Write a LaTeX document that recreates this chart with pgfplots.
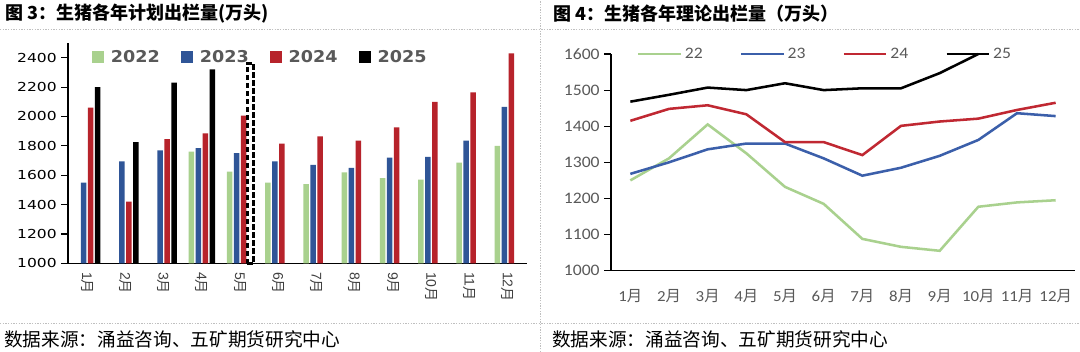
\documentclass[border=0pt]{standalone}
\usepackage{pgfplots}
\pgfplotsset{compat=1.18}
\usepackage{fontspec}
\setmainfont{Liberation Sans}
\newfontfamily\cjk{Noto Sans CJK SC}
\newfontfamily\dvs[FakeStretch=1.25]{DejaVu Sans}
\newfontfamily\dvsb[FakeStretch=1.08]{DejaVu Sans}
\newfontfamily\carl[FakeStretch=1.1]{Carlito}
\definecolor{cg}{RGB}{169,209,142}
\definecolor{cb}{RGB}{47,85,151}
\definecolor{cr}{RGB}{183,35,43}
\definecolor{lb}{RGB}{59,95,170}
\definecolor{lr}{RGB}{192,40,50}
\definecolor{tg}{RGB}{89,89,89}
\begin{document}
\begin{tikzpicture}
\path[use as bounding box, fill=white] (0,0) rectangle (810pt,264pt);
% separators
\draw[gray!50, dash pattern=on 1pt off 1pt] (0,242pt) -- (810pt,242pt);
\draw[gray!50, dash pattern=on 1pt off 1pt] (0,21.75pt) -- (810pt,21.75pt);
\draw[gray!50, dash pattern=on 1pt off 1pt] (405.5pt,0) -- (405.5pt,264pt);
% titles
\node[anchor=west, inner sep=0pt, font=\cjk\bfseries\fontsize{13.5pt}{15pt}\selectfont] at (3.75pt,253.9pt) {图 3：生猪各年计划出栏量(万头)};
\node[anchor=west, inner sep=0pt, font=\cjk\bfseries\fontsize{13.5pt}{15pt}\selectfont] at (414.75pt,253.9pt) {图 4：生猪各年理论出栏量（万头）};
\node[anchor=west, inner sep=0pt, font=\cjk\fontsize{14pt}{16pt}\selectfont] at (3pt,9.75pt) {数据来源：涌益咨询、五矿期货研究中心};
\node[anchor=west, inner sep=0pt, font=\cjk\fontsize{14pt}{16pt}\selectfont] at (414pt,9.75pt) {数据来源：涌益咨询、五矿期货研究中心};

% left chart
\begin{axis}[
  at={(51pt,66.5pt)}, anchor=south west,
  scale only axis, width=344.25pt, height=165.2pt,
  xmin=0.5, xmax=12.5, ymin=1000, ymax=2500,
  axis x line=bottom, axis y line=left,
  axis line style={-, black, line width=0.9pt},
  ytick={1000,1200,...,2400},
  xtick={1,...,12},
  xticklabels={1{\cjk 月},2{\cjk 月},3{\cjk 月},4{\cjk 月},5{\cjk 月},6{\cjk 月},7{\cjk 月},8{\cjk 月},9{\cjk 月},10{\cjk 月},11{\cjk 月},12{\cjk 月}},
  xticklabel style={rotate=-90, anchor=west, font=\fontsize{10.5pt}{11pt}\selectfont, text=black!75, xshift=-2pt},
  x tick style={draw=none},
  extra x ticks={0.5,1.5,...,12.5},
  extra x tick labels={},
  extra x tick style={major tick length=5pt, tick align=outside, tick style={draw=black, line width=0.9pt}},
  y tick style={black, line width=0.9pt},
  tick align=outside, major tick length=5pt,
  yticklabel style={font=\dvs\fontsize{9.3pt}{10pt}\selectfont, text=black},
  /pgf/number format/assume math mode=true,
  /pgf/number format/set thousands separator={},
  legend columns=4,
  legend style={draw=none, fill=none, at={(0.0523,0.9364)}, anchor=west, inner sep=0pt,
    font=\dvsb\bfseries\fontsize{12.2pt}{13pt}\selectfont, text=tg,
    /tikz/every even column/.append style={column sep=14pt},
    /tikz/every odd column/.append style={column sep=3pt}},
  legend image code/.code={\fill[#1] (0pt,-4.5pt) rectangle (9pt,4.5pt);},
  clip=false,
]
\addplot[ybar, bar width=4.125pt, bar shift=-7.875pt, fill=cg, draw=none] coordinates {(4,1760) (5,1625) (6,1550) (7,1540) (8,1620) (9,1580) (10,1570) (11,1685) (12,1800)};
\addplot[ybar, bar width=4.125pt, bar shift=-2.625pt, fill=cb, draw=none] coordinates {(1,1550) (2,1695) (3,1770) (4,1785) (5,1750) (6,1695) (7,1670) (8,1650) (9,1720) (10,1725) (11,1835) (12,2065)};
\addplot[ybar, bar width=4.125pt, bar shift=2.625pt, fill=cr, draw=none] coordinates {(1,2060) (2,1420) (3,1845) (4,1885) (5,2005) (6,1815) (7,1865) (8,1835) (9,1925) (10,2100) (11,2165) (12,2430)};
\addplot[ybar, bar width=4.125pt, bar shift=7.875pt, fill=black, draw=none] coordinates {(1,2200) (2,1825) (3,2230) (4,2320)};
\addplot[ybar, bar width=4.8pt, bar shift=7.875pt, fill=none, draw=black, line width=2pt, dash pattern=on 4pt off 2pt, forget plot] coordinates {(5,2360)};
\legend{2022,2023,2024,2025}
\end{axis}

% right chart
\begin{axis}[
  at={(458.25pt,61pt)}, anchor=south west,
  scale only axis, width=348pt, height=162.5pt,
  xmin=0.5, xmax=12.5, ymin=1000, ymax=1600,
  axis x line=bottom, axis y line=left,
  axis line style={-, black, line width=0.9pt},
  ytick={1000,1100,...,1600},
  xtick={1,...,12},
  xticklabels={1{\cjk 月},2{\cjk 月},3{\cjk 月},4{\cjk 月},5{\cjk 月},6{\cjk 月},7{\cjk 月},8{\cjk 月},9{\cjk 月},10{\cjk 月},11{\cjk 月},12{\cjk 月}},
  xticklabel style={font=\carl\fontsize{11.5pt}{12pt}\selectfont, text=tg, yshift=-5.5pt},
  x tick style={draw=none},
  extra x ticks={0.5,1.5,...,12.5},
  extra x tick labels={},
  extra x tick style={major tick length=5pt, tick align=outside, tick style={draw=black, line width=0.9pt}},
  y tick style={black, line width=0.9pt},
  tick align=outside, major tick length=5pt,
  yticklabel style={font=\carl\fontsize{12pt}{13pt}\selectfont, text=tg},
  /pgf/number format/assume math mode=true,
  /pgf/number format/set thousands separator={},
  legend columns=4,
  legend style={draw=none, fill=none, at={(0.0554,1.0)}, anchor=west, inner sep=0pt,
    font=\carl\fontsize{12pt}{13pt}\selectfont, text=tg,
    /tikz/every even column/.append style={column sep=25.8pt},
    /tikz/every odd column/.append style={column sep=0pt}},
  legend image code/.code={\draw[#1] (0pt,0pt) -- (32pt,0pt);},
  clip=false,
  every axis plot/.append style={line width=1.9pt, mark=none},
]
\addplot[cg] coordinates {(1,1250) (2,1311) (3,1405) (4,1325) (5,1232) (6,1185) (7,1088) (8,1066) (9,1055) (10,1177) (11,1189) (12,1195)};
\addplot[lb] coordinates {(1,1268) (2,1300) (3,1336) (4,1352) (5,1352) (6,1311) (7,1263) (8,1285) (9,1318) (10,1362) (11,1436) (12,1428)};
\addplot[lr] coordinates {(1,1415) (2,1448) (3,1458) (4,1433) (5,1356) (6,1356) (7,1320) (8,1401) (9,1413) (10,1421) (11,1445) (12,1465)};
\addplot[black] coordinates {(1,1468) (2,1487) (3,1507) (4,1500) (5,1519) (6,1500) (7,1505) (8,1505) (9,1547) (10,1600)};
\legend{22,23,24,25}
\end{axis}
\end{tikzpicture}
\end{document}
